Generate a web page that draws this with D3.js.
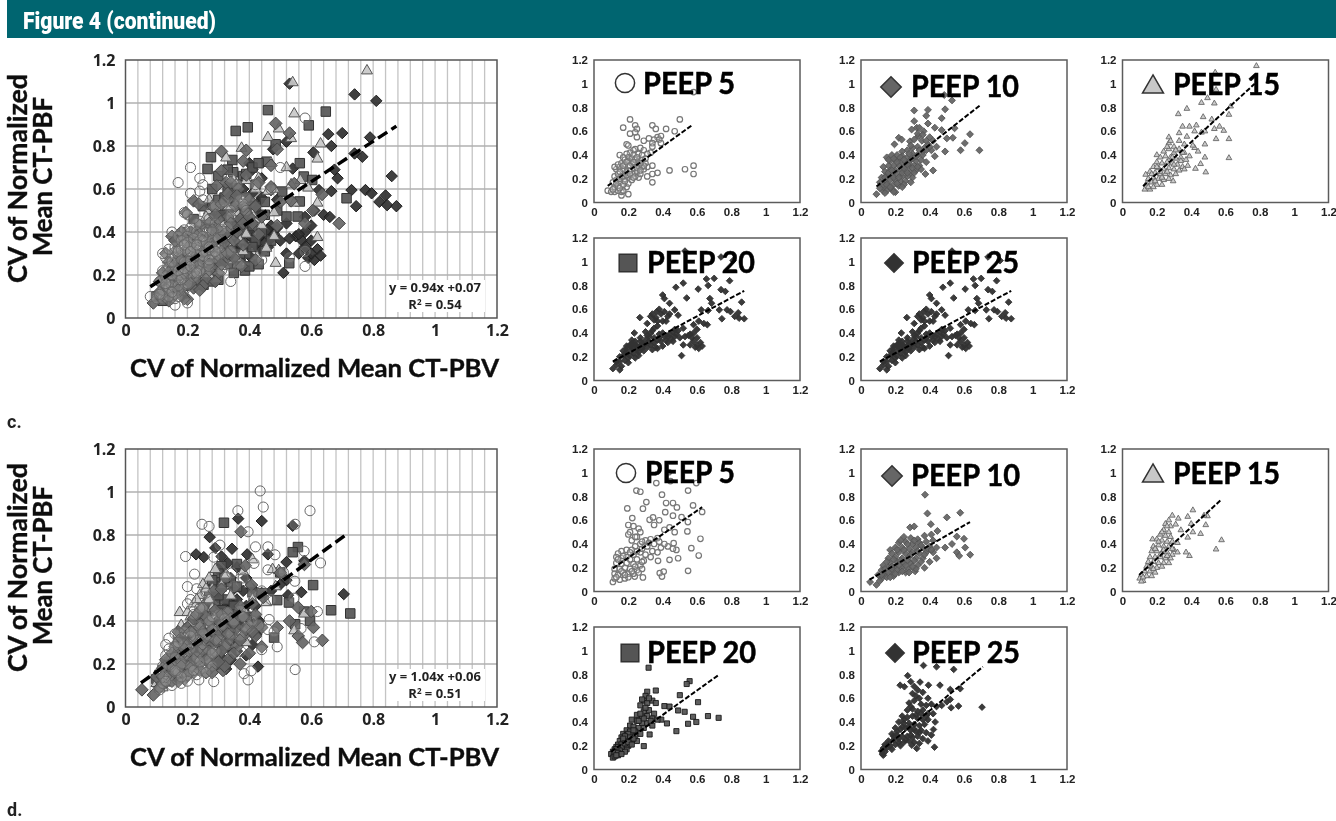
<!DOCTYPE html>
<html>
<head>
<meta charset="utf-8">
<script src="https://cdnjs.cloudflare.com/ajax/libs/d3/7.8.5/d3.min.js"></script>
<style>
html, body { margin: 0; padding: 0; background: #fff; }
svg { display: block; }
.main-tick text { font: 700 16px "Open Sans", sans-serif; fill: #222; }
.small-tick text { font: 700 11.5px "Liberation Sans", sans-serif; fill: #222; }
.peep { font: 700 30px Lato, sans-serif; fill: #000; stroke: #000; stroke-width: 0.5px; }
.axis-title { font: 700 25px Lato, sans-serif; fill: #111; stroke: #111; stroke-width: 0.4px; }
.note { font: 700 13px "Open Sans", sans-serif; fill: #222; text-anchor: middle; }
</style>
</head>
<body>
<script>
var axisTicks = [0, 0.2, 0.4, 0.6, 0.8, 1, 1.2];
var gridXTicks = [0.04, 0.08, 0.12, 0.16, 0.2, 0.24, 0.28, 0.32, 0.36, 0.4, 0.44, 0.48, 0.52, 0.56, 0.6, 0.64, 0.68, 0.72, 0.76, 0.8, 0.84, 0.88, 0.92, 0.96, 1, 1.04, 1.08, 1.12, 1.16];
var gridYTicks = [0.2, 0.4, 0.6, 0.8, 1];

// values, dense clusters are estimates
var cPeep5 = [[.58,.93],[.50,.70],[.21,.70],[.17,.63],[.24,.65],[.25,.62],[.34,.65],[.36,.62],[.42,.62],[.47,.60],[.21,.58],[.24,.59],[.25,.55],[.32,.54],[.37,.55],[.39,.56],[.38,.53],[.35,.53],[.39,.50],[.34,.50],[.29,.52],[.19,.49],[.20,.48],[.24,.45],[.27,.46],[.29,.44],[.23,.44],[.21,.42],[.19,.41],[.15,.40],[.17,.38],[.20,.38],[.23,.40],[.26,.41],[.28,.40],[.34,.47],[.33,.42],[.58,.31],[.58,.24],[.53,.28],[.44,.27],[.37,.25],[.34,.24],[.31,.22],[.34,.17],[.34,.31],[.31,.30],[.29,.28],[.26,.21],[.23,.24],[.20,.07],[.16,.06],[.16,.09],[.08,.10],[.10,.09],[.12,.09],[.14,.10],[.17,.10],[.19,.13],[.20,.16],[.12,.13],[.14,.14],[.11,.17],[.13,.19],[.15,.17],[.17,.15],[.12,.22],[.14,.24],[.16,.22],[.18,.20],[.20,.21],[.22,.19],[.24,.22],[.13,.28],[.15,.30],[.17,.28],[.19,.26],[.21,.27],[.23,.29],[.25,.26],[.27,.24],[.12,.30],[.14,.32],[.16,.33],[.18,.32],[.20,.31],[.22,.33],[.24,.32],[.26,.31],[.28,.30],[.30,.33],[.18,.36],[.20,.35],[.22,.37],[.24,.36],[.26,.35],[.28,.36],[.30,.37],[.31,.41],[.15,.12],[.11,.11],[.18,.18],[.13,.16],[.15,.20],[.17,.22],[.19,.23],[.21,.24],[.23,.21],[.25,.29],[.27,.27],[.29,.31],[.15,.26],[.17,.31],[.19,.34],[.21,.31],[.23,.34],[.25,.38],[.27,.33]];

var cPeep10 = [[.485,.905],[.53,.86],[.31,.775],[.39,.78],[.38,.73],[.49,.785],[.47,.71],[.31,.685],[.39,.665],[.295,.615],[.325,.63],[.43,.63],[.47,.61],[.545,.625],[.635,.575],[.605,.50],[.58,.44],[.69,.44],[.535,.545],[.50,.54],[.49,.43],[.43,.39],[.42,.27],[.375,.24],[.22,.545],[.237,.53],[.195,.49],[.285,.515],[.335,.56],[.365,.60],[.355,.52],[.39,.49],[.09,.07],[.13,.095],[.20,.087],[.33,.47],[.30,.46],[.27,.44],[.24,.43],[.36,.43],[.33,.40],[.30,.41],[.27,.38],[.24,.39],[.21,.40],[.18,.40],[.15,.38],[.17,.35],[.20,.36],[.23,.35],[.26,.34],[.29,.36],[.32,.35],[.35,.36],[.38,.34],[.34,.31],[.31,.31],[.28,.30],[.25,.31],[.22,.31],[.19,.31],[.16,.31],[.13,.30],[.14,.26],[.17,.27],[.20,.27],[.23,.27],[.26,.26],[.29,.25],[.32,.27],[.35,.28],[.30,.21],[.27,.22],[.24,.22],[.21,.23],[.18,.23],[.15,.23],[.12,.21],[.11,.17],[.14,.18],[.17,.19],[.20,.19],[.23,.18],[.26,.18],[.29,.17],[.13,.13],[.16,.14],[.19,.15],[.22,.14],[.25,.15],[.15,.10],[.18,.11],[.11,.12],[.40,.55],[.37,.46],[.41,.44],[.13,.15],[.15,.15],[.14,.21],[.16,.25],[.18,.27],[.19,.21],[.21,.16],[.22,.21],[.24,.25],[.25,.29],[.27,.25],[.28,.33],[.30,.29],[.31,.25],[.33,.30],[.16,.36],[.19,.37],[.21,.34],[.23,.38],[.25,.36],[.27,.32],[.30,.37],[.32,.39],[.34,.44],[.36,.40],[.38,.44],[.29,.48],[.31,.53],[.33,.58],[.34,.63],[.36,.57],[.38,.52],[.40,.47],[.42,.52],[.44,.47],[.28,.41],[.17,.13],[.19,.09],[.14,.08],[.24,.13]];

var cPeep15 = [[.78,1.15],[.54,1.095],[.545,.95],[.495,.88],[.46,.84],[.535,.835],[.63,.81],[.325,.745],[.375,.79],[.47,.72],[.52,.70],[.62,.74],[.35,.64],[.39,.64],[.43,.65],[.48,.60],[.535,.62],[.565,.64],[.59,.605],[.62,.535],[.545,.535],[.48,.49],[.62,.375],[.48,.38],[.455,.325],[.425,.285],[.485,.255],[.42,.46],[.39,.39],[.27,.55],[.33,.585],[.375,.555],[.20,.40],[.135,.235],[.13,.11],[.16,.11],[.295,.18],[.27,.50],[.30,.47],[.33,.52],[.36,.49],[.33,.45],[.27,.45],[.24,.43],[.30,.42],[.36,.42],[.22,.38],[.25,.39],[.28,.38],[.31,.37],[.34,.38],[.37,.36],[.20,.34],[.23,.33],[.26,.34],[.29,.33],[.32,.32],[.35,.30],[.38,.31],[.18,.30],[.21,.29],[.24,.28],[.27,.29],[.30,.28],[.33,.27],[.36,.28],[.16,.26],[.19,.25],[.22,.24],[.25,.24],[.28,.23],[.31,.24],[.15,.20],[.18,.21],[.21,.20],[.24,.19],[.27,.20],[.14,.16],[.17,.17],[.20,.15],[.23,.15],[.15,.13],[.18,.13],[.41,.48],[.44,.43],[.42,.60],[.46,.59],[.20,.30],[.22,.26],[.17,.24],[.29,.38],[.31,.44],[.35,.42],[.26,.47],[.28,.52],[.34,.35],[.23,.21],[.19,.18],[.26,.26],[.30,.32]];

// squares only appear in the combined plot, the small PEEP 20 panel of c repeats PEEP 25
var cPeep20 = [[.46,.967],[.647,.96],[.356,.87],[.395,.887],[.592,.896],[.276,.748],[.265,.693],[.485,.808],[.456,.727],[.345,.735],[.348,.678],[.563,.72],[.576,.658],[.603,.642],[.506,.588],[.563,.542],[.52,.472],[.556,.472],[.714,.557],[.529,.255],[.386,.221],[.252,.155],[.30,.178],[.38,.66],[.33,.60],[.42,.62],[.30,.55],[.36,.53],[.45,.54],[.49,.50],[.27,.47],[.33,.46],[.39,.45],[.24,.42],[.30,.40],[.36,.38],[.42,.36],[.21,.36],[.27,.34],[.33,.32],[.39,.30],[.18,.30],[.24,.28],[.30,.26],[.36,.25],[.16,.24],[.21,.22],[.26,.21],[.14,.18],[.19,.17],[.13,.13],[.10,.10],[.12,.08],[.30,.66],[.33,.69],[.36,.62],[.39,.67],[.41,.70],[.43,.72],[.28,.60],[.32,.56],[.35,.58],[.39,.56],[.42,.52],[.45,.48],[.25,.52],[.28,.50],[.31,.48],[.34,.50],[.38,.48],[.41,.43],[.44,.40],[.22,.46],[.26,.44],[.29,.43],[.33,.39],[.38,.40],[.41,.33],[.45,.31],[.47,.36],[.20,.40],[.23,.37],[.26,.31],[.29,.30],[.33,.25],[.37,.30],[.40,.24],[.19,.25],[.23,.20],[.28,.17],[.35,.21],[.43,.25]];

var cPeep25 = [[.53,1.09],[.81,1.01],[.74,1.04],[.655,.855],[.70,.86],[.79,.84],[.665,.80],[.74,.765],[.765,.75],[.607,.77],[.675,.69],[.685,.65],[.86,.66],[.625,.595],[.665,.59],[.73,.595],[.775,.595],[.795,.58],[.745,.52],[.84,.57],[.82,.54],[.845,.525],[.875,.52],[.52,.82],[.477,.785],[.40,.72],[.41,.69],[.54,.695],[.44,.65],[.47,.595],[.49,.55],[.267,.53],[.365,.58],[.235,.40],[.51,.21],[.11,.10],[.15,.09],[.33,.54],[.35,.51],[.38,.60],[.41,.58],[.43,.54],[.40,.50],[.37,.46],[.34,.42],[.30,.41],[.31,.38],[.27,.36],[.24,.33],[.22,.31],[.25,.29],[.28,.31],[.32,.33],[.35,.36],[.38,.39],[.41,.37],[.44,.39],[.47,.37],[.50,.36],[.46,.33],[.43,.32],[.40,.29],[.37,.27],[.34,.26],[.31,.28],[.29,.25],[.26,.24],[.22,.26],[.19,.24],[.21,.21],[.24,.19],[.17,.21],[.15,.16],[.18,.17],[.20,.15],[.13,.13],[.16,.12],[.19,.29],[.52,.30],[.55,.38],[.58,.40],[.60,.43],[.62,.32],[.57,.36],[.59,.28],[.61,.27],[.63,.29],[.56,.39],[.58,.47],[.61,.50],[.64,.48],[.66,.47],[.52,.44],[.49,.42],[.53,.37],[.47,.43],[.13,.16],[.15,.20],[.17,.25],[.19,.27],[.21,.30],[.22,.34],[.24,.30],[.26,.28],[.27,.33],[.29,.30],[.30,.34],[.32,.37],[.33,.30],[.35,.32],[.36,.28],[.37,.34],[.38,.36],[.39,.33],[.40,.40],[.42,.34],[.43,.37],[.45,.35],[.46,.41],[.48,.39],[.33,.40],[.35,.44],[.31,.48],[.36,.53],[.39,.56],[.42,.50],[.44,.56],[.37,.50],[.34,.56],[.60,.36],[.58,.33],[.56,.30],[.60,.30],[.20,.19],[.23,.23],[.26,.21],[.28,.27],[.25,.26],[.22,.28],[.18,.22]];

var dPeep5 = [[.596,.913],[.363,.913],[.435,1.005],[.445,.93],[.247,.85],[.27,.84],[.548,.85],[.396,.815],[.305,.753],[.194,.70],[.285,.697],[.42,.745],[.46,.745],[.483,.708],[.577,.725],[.63,.67],[.223,.618],[.324,.604],[.344,.624],[.415,.668],[.46,.638],[.51,.626],[.547,.585],[.544,.506],[.62,.444],[.567,.365],[.61,.303],[.548,.174],[.49,.28],[.44,.267],[.383,.155],[.406,.168],[.396,.126],[.464,.407],[.48,.35],[.373,.258],[.285,.118],[.237,.126],[.20,.56],[.23,.55],[.21,.50],[.26,.53],[.27,.50],[.25,.46],[.20,.48],[.30,.43],[.33,.44],[.37,.45],[.41,.52],[.44,.54],[.47,.50],[.35,.56],[.38,.60],[.31,.38],[.27,.40],[.24,.38],[.22,.35],[.19,.35],[.16,.34],[.14,.32],[.13,.29],[.16,.28],[.19,.29],[.23,.31],[.27,.33],[.30,.31],[.34,.34],[.37,.33],[.39,.37],[.43,.38],[.46,.36],[.21,.27],[.25,.27],[.29,.26],[.33,.29],[.13,.24],[.16,.23],[.19,.24],[.23,.23],[.27,.22],[.12,.19],[.15,.19],[.18,.20],[.21,.19],[.25,.18],[.28,.19],[.12,.15],[.14,.14],[.17,.16],[.20,.15],[.23,.15],[.26,.16],[.11,.08],[.12,.11],[.15,.10],[.18,.11],[.20,.12],[.13,.12],[.22,.43],[.24,.46],[.28,.42],[.32,.41],[.35,.40],[.38,.42],[.41,.40],[.17,.30],[.21,.33],[.25,.34],[.28,.36],[.14,.27],[.16,.17],[.18,.14],[.22,.17],[.24,.21],[.28,.25]];

var dPeep10 = [[.373,.815],[.387,.657],[.50,.624],[.578,.663],[.407,.567],[.445,.51],[.286,.54],[.31,.548],[.558,.463],[.60,.444],[.607,.37],[.636,.31],[.558,.33],[.572,.30],[.49,.37],[.53,.40],[.17,.35],[.053,.08],[.09,.056],[.44,.28],[.40,.25],[.315,.17],[.25,.46],[.29,.45],[.33,.44],[.37,.47],[.41,.48],[.22,.41],[.26,.42],[.30,.40],[.34,.41],[.38,.42],[.42,.43],[.20,.37],[.24,.37],[.28,.36],[.32,.37],[.36,.37],[.40,.38],[.44,.37],[.18,.32],[.22,.33],[.26,.32],[.30,.33],[.34,.32],[.38,.33],[.42,.33],[.16,.28],[.20,.29],[.24,.28],[.28,.29],[.32,.28],[.36,.28],[.13,.22],[.17,.24],[.21,.25],[.25,.24],[.29,.24],[.33,.22],[.37,.20],[.12,.18],[.16,.20],[.20,.21],[.24,.20],[.28,.19],[.32,.19],[.10,.14],[.14,.15],[.18,.16],[.22,.16],[.26,.16],[.12,.11],[.15,.12],[.19,.13],[.11,.09],[.23,.43],[.27,.40],[.31,.43],[.35,.39],[.39,.36],[.21,.35],[.25,.35],[.29,.31],[.33,.34],[.37,.31],[.41,.35],[.19,.27],[.23,.26],[.27,.26],[.31,.26],[.35,.25],[.15,.25],[.18,.21],[.22,.22],[.26,.22],[.30,.21],[.14,.19],[.18,.19],[.21,.18],[.24,.17],[.28,.16],[.13,.14],[.16,.16],[.17,.12],[.20,.15],[.12,.14]];

var dPeep15 = [[.41,.685],[.38,.63],[.495,.635],[.475,.64],[.485,.56],[.40,.57],[.455,.486],[.41,.50],[.38,.455],[.577,.433],[.545,.355],[.37,.33],[.39,.30],[.29,.64],[.325,.615],[.31,.565],[.34,.517],[.175,.44],[.27,.60],[.25,.57],[.28,.55],[.24,.52],[.27,.50],[.22,.48],[.25,.47],[.28,.46],[.20,.44],[.23,.43],[.26,.42],[.29,.42],[.32,.41],[.18,.38],[.21,.39],[.24,.38],[.27,.38],[.30,.35],[.32,.33],[.17,.34],[.20,.34],[.23,.33],[.26,.33],[.29,.31],[.16,.29],[.19,.29],[.22,.29],[.25,.28],[.28,.28],[.15,.25],[.18,.25],[.21,.24],[.24,.24],[.27,.24],[.14,.21],[.17,.21],[.20,.20],[.23,.21],[.13,.17],[.16,.17],[.19,.16],[.11,.14],[.14,.13],[.17,.13],[.10,.11],[.12,.09],[.11,.085],[.26,.55],[.23,.50],[.21,.42],[.24,.35],[.26,.30],[.29,.36],[.19,.36],[.22,.31],[.16,.22],[.18,.19],[.12,.12]];

var dPeep20 = [[.318,.857],[.557,.744],[.54,.72],[.31,.655],[.36,.665],[.50,.626],[.606,.567],[.49,.497],[.528,.486],[.664,.45],[.726,.435],[.577,.444],[.596,.40],[.548,.385],[.48,.323],[.324,.295],[.29,.197],[.425,.388],[.392,.42],[.41,.534],[.44,.53],[.30,.62],[.29,.58],[.27,.54],[.31,.56],[.34,.58],[.36,.56],[.29,.49],[.32,.50],[.35,.47],[.25,.46],[.28,.44],[.31,.45],[.34,.43],[.37,.42],[.22,.42],[.25,.41],[.28,.39],[.31,.39],[.34,.37],[.21,.37],[.23,.36],[.26,.35],[.29,.35],[.19,.33],[.21,.32],[.24,.32],[.27,.30],[.17,.30],[.19,.29],[.22,.29],[.24,.28],[.16,.27],[.18,.26],[.20,.26],[.22,.25],[.25,.24],[.15,.24],[.17,.23],[.19,.23],[.21,.22],[.14,.21],[.16,.21],[.18,.20],[.20,.20],[.13,.19],[.15,.18],[.17,.18],[.19,.17],[.12,.17],[.14,.16],[.16,.16],[.18,.15],[.11,.15],[.13,.14],[.15,.14],[.10,.13],[.12,.125],[.14,.12],[.11,.10],[.12,.11],[.20,.30],[.23,.33],[.18,.28],[.21,.27],[.23,.26],[.17,.26],[.19,.21],[.16,.19],[.18,.22],[.20,.23],[.22,.21],[.14,.19],[.15,.16],[.13,.17],[.12,.15],[.14,.14],[.16,.13],[.13,.12],[.26,.41],[.29,.43],[.33,.41],[.27,.47],[.30,.52],[.32,.60],[.28,.59]];

var dPeep25 = [[.364,.876],[.44,.865],[.54,.843],[.272,.79],[.228,.71],[.253,.697],[.344,.736],[.393,.71],[.46,.71],[.705,.525],[.568,.534],[.525,.52],[.52,.59],[.52,.674],[.578,.68],[.432,.40],[.422,.337],[.428,.188],[.325,.177],[.296,.205],[.29,.74],[.31,.70],[.33,.67],[.30,.64],[.36,.65],[.39,.60],[.34,.60],[.31,.58],[.28,.56],[.35,.55],[.38,.54],[.41,.55],[.44,.53],[.47,.54],[.50,.57],[.27,.50],[.30,.51],[.33,.49],[.36,.50],[.39,.47],[.42,.47],[.24,.45],[.27,.44],[.30,.45],[.33,.43],[.36,.42],[.39,.42],[.22,.40],[.25,.39],[.28,.39],[.31,.38],[.34,.37],[.37,.38],[.20,.35],[.23,.34],[.26,.35],[.29,.33],[.32,.32],[.35,.33],[.38,.31],[.41,.29],[.18,.30],[.21,.29],[.24,.28],[.27,.28],[.30,.27],[.33,.28],[.36,.26],[.39,.24],[.16,.24],[.19,.25],[.22,.23],[.25,.23],[.28,.24],[.31,.23],[.34,.22],[.14,.21],[.17,.20],[.20,.21],[.23,.20],[.13,.18],[.15,.18],[.18,.17],[.12,.155],[.14,.15],[.125,.13],[.13,.12],[.32,.62],[.29,.53],[.32,.46],[.35,.47],[.38,.45],[.25,.42],[.28,.36],[.31,.34],[.34,.31],[.24,.36],[.21,.32],[.19,.28],[.16,.21],[.22,.26],[.26,.25],[.29,.29]];

var cMainLine = [[.08,.145],[.875,.8925]];
var dMainLine = [[.05,.112],[.717,.806]];
var cLines = {p5: [[.08,.14],[.57,.65]], p10: [[.09,.135],[.695,.82]], p15: [[.12,.137],[.77,1.0]], p20: [[.11,.16],[.875,.755]], p25: [[.11,.16],[.875,.755]]};
var dLines = {p5: [[.11,.195],[.63,.71]], p10: [[.05,.10],[.635,.585]], p15: [[.097,.14],[.573,.77]], p20: [[.10,.15],[.73,.80]], p25: [[.11,.15],[.71,.865]]};

var cEquation = ["y = 0.94x +0.07", "0.54"];
var dEquation = ["y = 1.04x +0.06", "0.51"];

var width = 1336, height = 821;

var svg = d3.select("body").append("svg").attr("width", width).attr("height", height);

svg.append("defs").append("filter").attr("id", "soft")
    .attr("x", 0).attr("y", 0)
    .attr("filterUnits", "userSpaceOnUse")
    .attr("width", width).attr("height", height)
    .append("feGaussianBlur").attr("stdDeviation", 0.5);

var root = svg.append("g").attr("filter", "url(#soft)");

// header band
root.append("rect").attr("x", 7).attr("y", 0).attr("width", width - 7).attr("height", 38).attr("fill", "#01656f");
root.append("text").attr("x", 23).attr("y", 29)
    .attr("textLength", 193).attr("lengthAdjust", "spacingAndGlyphs")
    .style("font", "900 24px Roboto, sans-serif").attr("fill", "#fff")
    .text("Figure 4 (continued)");

// own diamond, d3.symbolDiamond is too narrow
var diamond = {
    draw: function(ctx, size) {
        var h = Math.sqrt(size / 2);
        ctx.moveTo(0, -h);
        ctx.lineTo(h, 0);
        ctx.lineTo(0, h);
        ctx.lineTo(-h, 0);
        ctx.closePath();
    }
};

var shapes = {
    p5: {type: d3.symbolCircle, fill: "#fff", stroke: "#666", small: "#777"},
    p10: {type: diamond, fill: "#666", stroke: "#444", small: "#555"},
    p15: {type: d3.symbolTriangle, fill: "#c8c8c8", stroke: "#555", small: "#666"},
    p20: {type: d3.symbolSquare, fill: "#555", stroke: "#333", small: "#1a1a1a"},
    p25: {type: diamond, fill: "#303030", stroke: "#1c1c1c", small: "#333"}
};

// symbol areas for the big combined plot, the small panels and the legend icons
var mainArea = {p5: 80, p10: 80, p15: 52, p20: 90, p25: 65};
var smallArea = {p5: 24, p10: 24, p15: 14, p20: 26, p25: 22};
var iconArea = {p5: 290, p10: 210, p15: 190, p20: 310, p25: 170};

function trend(g, x, y, pts, w, dash) {
    g.append("line")
        .attr("x1", x(pts[0][0])).attr("y1", y(pts[0][1]))
        .attr("x2", x(pts[1][0])).attr("y2", y(pts[1][1]))
        .attr("stroke", "#000").attr("stroke-width", w).attr("stroke-dasharray", dash);
}

function points(g, x, y, data, key, area, alpha, stroke, sw) {
    var s = shapes[key];
    g.append("g").selectAll("path").data(data).enter().append("path")
        .attr("transform", function(d) { return "translate(" + x(d[0]) + "," + y(d[1]) + ")"; })
        .attr("d", d3.symbol().type(s.type).size(area))
        .attr("fill", s.fill).attr("fill-opacity", alpha)
        .attr("stroke", stroke).attr("stroke-width", sw);
}

function drawMain(box, series, line, eq) {
    var g = root.append("g");
    var x = d3.scaleLinear().domain([0, 1.2]).range([box.left, box.right]);
    var y = d3.scaleLinear().domain([0, 1.2]).range([box.bottom, box.top]);

    g.append("g").selectAll("line").data(gridXTicks).enter().append("line")
        .attr("x1", x).attr("x2", x).attr("y1", box.top).attr("y2", box.bottom)
        .attr("stroke", "#c4c4c4").attr("stroke-width", 1.3);
    g.append("rect").attr("x", 387).attr("width", 98)
        .attr("y", box.bottom - 38).attr("height", 32).attr("fill", "#fff");
    g.append("g").selectAll("line").data(gridYTicks).enter().append("line")
        .attr("y1", y).attr("y2", y).attr("x1", box.left).attr("x2", box.right)
        .attr("stroke", "#b0b0b0").attr("stroke-width", 1.5);

    // back to front as the reference stacks them
    ["p25", "p20", "p15", "p10", "p5"].forEach(function(k) {
        points(g, x, y, series[k], k, mainArea[k], k == "p5" ? 0.12 : 0.92, shapes[k].stroke, 1);
    });
    trend(g, x, y, line, 3.5, "11,5");

    g.append("rect").attr("x", box.left).attr("y", box.top)
        .attr("width", box.right - box.left).attr("height", box.bottom - box.top)
        .attr("fill", "none").attr("stroke", "#555").attr("stroke-width", 1.5);

    var ax = g.append("g").attr("class", "main-tick").attr("transform", "translate(0," + box.bottom + ")")
        .call(d3.axisBottom(x).tickValues(axisTicks).tickSize(0).tickPadding(7).tickFormat(String));
    ax.select(".domain").remove();
    var ay = g.append("g").attr("class", "main-tick").attr("transform", "translate(" + box.left + ",0)")
        .call(d3.axisLeft(y).tickValues(axisTicks).tickSize(0).tickPadding(10).tickFormat(String));
    ay.select(".domain").remove();

    g.append("text").attr("class", "note").attr("x", 435).attr("y", box.bottom - 26).text(eq[0]);
    var r = g.append("text").attr("class", "note").attr("x", 435).attr("y", box.bottom - 9);
    r.append("tspan").text("R");
    r.append("tspan").attr("dy", -4).style("font-size", "8px").text("2");
    r.append("tspan").attr("dy", 4).text(" = " + eq[1]);

    g.append("text").attr("class", "axis-title")
        .attr("x", 130).attr("y", box.bottom + 59)
        .attr("textLength", 369).attr("lengthAdjust", "spacingAndGlyphs")
        .text("CV of Normalized Mean CT-PBV");
    g.append("text").attr("class", "axis-title")
        .attr("transform", "translate(27," + (box.top + 223) + ") rotate(-90)")
        .attr("textLength", 209).attr("lengthAdjust", "spacingAndGlyphs")
        .style("font-size", "27px").text("CV of Normalized");
    g.append("text").attr("class", "axis-title")
        .attr("transform", "translate(52," + (box.top + 196) + ") rotate(-90)")
        .attr("textLength", 159).attr("lengthAdjust", "spacingAndGlyphs")
        .style("font-size", "27px").text("Mean CT-PBF");
}

function drawSmall(p) {
    var g = root.append("g");
    var x = d3.scaleLinear().domain([0, 1.2]).range([p.left, p.left + 206]);
    var y = d3.scaleLinear().domain([0, 1.2]).range([p.top + 142.5, p.top]);

    g.append("rect").attr("x", p.left).attr("y", p.top).attr("width", 206).attr("height", 142.5)
        .attr("fill", "#fff").attr("stroke", "#5c5c5c").attr("stroke-width", 1.5);

    var s = p.markKey;
    points(g, x, y, p.data, s, smallArea[s], s == "p5" ? 0.2 : 0.95, shapes[s].small, s == "p5" ? 1.2 : 0.9);
    trend(g, x, y, p.line, 2, "5,2");

    var ax = g.append("g").attr("class", "small-tick").attr("transform", "translate(0," + (p.top + 142.5) + ")")
        .call(d3.axisBottom(x).tickValues(axisTicks).tickSize(0).tickPadding(5).tickFormat(String));
    ax.select(".domain").remove();
    var ay = g.append("g").attr("class", "small-tick").attr("transform", "translate(" + p.left + ",0)")
        .call(d3.axisLeft(y).tickValues(axisTicks).tickSize(0).tickPadding(6).tickFormat(String));
    ay.select(".domain").remove();

    // legend sits over the points
    var ic = shapes[p.key];
    g.append("path")
        .attr("transform", "translate(" + p.iconX + "," + p.iconY + ")")
        .attr("d", d3.symbol().type(ic.type).size(iconArea[p.key]))
        .attr("fill", ic.fill).attr("stroke", "#333").attr("stroke-width", 1.5);
    g.append("text").attr("class", "peep").attr("x", p.textX).attr("y", p.textY)
        .attr("textLength", p.textW).attr("lengthAdjust", "spacingAndGlyphs")
        .text(p.label);
}

var cSeries = {p5: cPeep5, p10: cPeep10, p15: cPeep15, p20: cPeep20, p25: cPeep25};
var dSeries = {p5: dPeep5, p10: dPeep10, p15: dPeep15, p20: dPeep20, p25: dPeep25};

drawMain({left: 125.5, right: 497, top: 60, bottom: 318}, cSeries, cMainLine, cEquation);
drawMain({left: 125.5, right: 497, top: 449, bottom: 707}, dSeries, dMainLine, dEquation);

// small panels
var panels = [
    {key: "p5", markKey: "p5", label: "PEEP 5", data: cPeep5, line: cLines.p5, left: 594, top: 60, iconX: 625, iconY: 83, textX: 643, textY: 94, textW: 92},
    {key: "p10", markKey: "p10", label: "PEEP 10", data: cPeep10, line: cLines.p10, left: 861, top: 60, iconX: 891, iconY: 87, textX: 911, textY: 97, textW: 108},
    {key: "p15", markKey: "p15", label: "PEEP 15", data: cPeep15, line: cLines.p15, left: 1122.5, top: 60, iconX: 1153, iconY: 87, textX: 1173, textY: 95, textW: 107},
    {key: "p20", markKey: "p25", label: "PEEP 20", data: cPeep25, line: cLines.p20, left: 594, top: 238, iconX: 628, iconY: 263, textX: 647, textY: 273, textW: 108},
    {key: "p25", markKey: "p25", label: "PEEP 25", data: cPeep25, line: cLines.p25, left: 861, top: 238, iconX: 894, iconY: 263, textX: 912, textY: 273, textW: 107},
    {key: "p5", markKey: "p5", label: "PEEP 5", data: dPeep5, line: dLines.p5, left: 594, top: 449, iconX: 626, iconY: 473, textX: 645, textY: 483, textW: 90},
    {key: "p10", markKey: "p10", label: "PEEP 10", data: dPeep10, line: dLines.p10, left: 861, top: 449, iconX: 892, iconY: 476, textX: 911, textY: 486, textW: 109},
    {key: "p15", markKey: "p15", label: "PEEP 15", data: dPeep15, line: dLines.p15, left: 1122.5, top: 449, iconX: 1153, iconY: 476, textX: 1173, textY: 484, textW: 107},
    {key: "p20", markKey: "p20", label: "PEEP 20", data: dPeep20, line: dLines.p20, left: 594, top: 627, iconX: 630, iconY: 653, textX: 647, textY: 663, textW: 109},
    {key: "p25", markKey: "p25", label: "PEEP 25", data: dPeep25, line: dLines.p25, left: 861, top: 627, iconX: 895, iconY: 653, textX: 912, textY: 663, textW: 108}
];
panels.forEach(drawSmall);

root.append("text").attr("x", 7).attr("y", 428).style("font", "700 18px 'Liberation Sans Narrow', Roboto, sans-serif").attr("fill", "#222").text("c.");
root.append("text").attr("x", 7).attr("y", 816).style("font", "700 18px 'Liberation Sans Narrow', Roboto, sans-serif").attr("fill", "#222").text("d.");
</script>
</body>
</html>
